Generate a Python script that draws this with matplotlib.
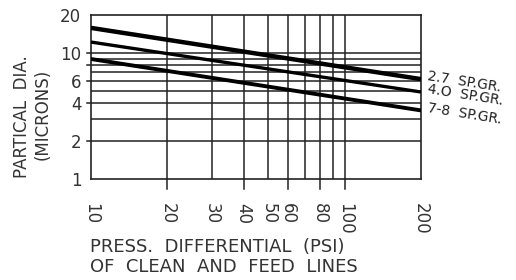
import numpy as np
import matplotlib.pyplot as plt
from matplotlib.ticker import FixedLocator

# 壓差 (psi) 與顆粒直徑 (microns)
press = [10, 200]
dia_27 = [15.8, 6.2]
dia_40 = [12.2, 4.9]
dia_78 = [8.95, 3.5]
names = ['2.7  SP.GR.', '4.O  SP.GR.', '7-8  SP.GR.']

x_labels = [10, 20, 30, 40, 50, 60, 80, 100, 200]
y_labels = [1, 2, 4, 6, 10, 20]
x_grid = [20, 30, 40, 50, 60, 70, 80, 90, 100]
y_grid = [2, 3, 4, 5, 6, 7, 8, 9, 10]

plt.rcParams['font.family'] = ['DejaVu Sans']
col = '#222222'
tcol = '#333333'

fig = plt.figure(figsize=(5.16, 2.8), dpi=100)
ax = fig.add_axes([91 / 516, 1 - 179 / 280, 330 / 516, 164 / 280])
ax.set_xscale('log')
ax.set_yscale('log')
ax.set_xlim(10, 200)
ax.set_ylim(1, 20)

for g in x_grid:
    ax.axvline(g, color=col, lw=1.1, zorder=1)
for g in y_grid:
    ax.axhline(g, color=col, lw=1.1, zorder=1)

for d, lw in zip([dia_27, dia_40, dia_78], [3.2, 2.4, 2.8]):
    ax.plot(press, d, color='black', lw=lw, solid_capstyle='butt', zorder=3)

ax.xaxis.set_major_locator(FixedLocator(x_labels))
ax.xaxis.set_minor_locator(FixedLocator([]))
ax.set_xticklabels([str(v) for v in x_labels], rotation=270, fontsize=12, color=tcol)
ax.tick_params(axis='x', length=0, pad=17)
ax.yaxis.set_major_locator(FixedLocator(y_labels))
ax.yaxis.set_minor_locator(FixedLocator([]))
ax.set_yticklabels([str(v) for v in y_labels], fontsize=12, color=tcol)
ax.tick_params(axis='y', length=0, pad=7)

# 刻度線 (軸外短線)
for v in [20, 40, 60, 80, 100]:
    ax.plot([v, v], [1, 0.833], color=col, lw=1.1, clip_on=False)
for v in [2, 4, 6, 8, 10]:
    ax.plot([9.64, 10], [v, v], color=col, lw=1.1, clip_on=False)

for s in ax.spines.values():
    s.set_color(col)
    s.set_linewidth(1.2)

for n, y in zip(names, [82, 95, 114]):
    fig.text(427 / 516, 1 - y / 280, n, fontsize=10, rotation=-9,
             va='center', ha='left', color='#222222')

fig.text(22 / 516, 1 - 117 / 280, 'PARTICAL  DIA.', rotation=90, fontsize=12,
         va='center', ha='center', color=tcol)
fig.text(43 / 516, 1 - 114 / 280, '(MICRONS)', rotation=90, fontsize=12,
         va='center', ha='center', color=tcol)
fig.text(90 / 516, 1 - 247 / 280, 'PRESS.  DIFFERENTIAL  (PSI)', fontsize=13,
         va='center', ha='left', color=tcol)
fig.text(90 / 516, 1 - 267 / 280, 'OF  CLEAN  AND  FEED  LINES', fontsize=13,
         va='center', ha='left', color=tcol)

fig.savefig('out.png', dpi=100)
